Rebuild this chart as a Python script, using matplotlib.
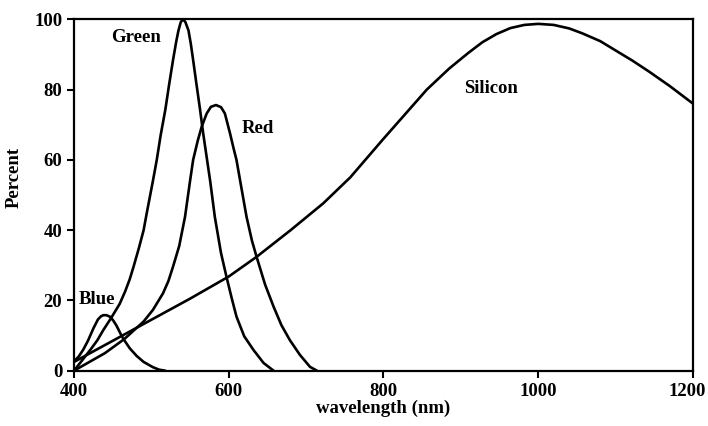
import matplotlib.pyplot as plt
import matplotlib.transforms as mtransforms

blue_nm = [400, 406, 412, 418, 425, 431, 435, 438, 442, 447, 451, 455, 460, 464, 472,
           481, 490, 502, 510, 518]
blue_pct = [2.7, 4.0, 6.0, 8.5, 12.0, 14.6, 15.5, 15.8, 15.8, 15.3, 14.2, 12.8, 10.6, 9.0, 6.4,
            4.2, 2.5, 1.0, 0.3, 0.0]

green_nm = [400, 410, 421, 430, 438, 448, 459, 466, 472, 477, 484, 490, 494, 502, 507,
            512, 518, 523, 528, 532, 535, 538, 541, 544, 548, 551, 554, 558, 563, 567,
            572, 576, 582, 590, 597, 604, 610, 620, 632, 645, 658]
green_pct = [0.0, 2.8, 5.9, 8.6, 11.6, 15.0, 19.0, 22.5, 26.0, 29.6, 35.0, 40.0, 44.8, 54.0, 60.0,
             67.0, 74.2, 81.5, 88.4, 93.5, 96.8, 99.2, 100.0, 99.2, 96.8, 93.0, 88.4, 82.0, 74.2, 67.5,
             60.0, 54.0, 43.8, 33.5, 26.8, 20.5, 15.4, 9.8, 5.9, 2.2, 0.0]

red_nm = [400, 420, 440, 465, 490, 502, 515, 522, 528, 536, 543.5, 550, 554, 560, 565,
          571.5, 577, 583.5, 590, 595, 601.6, 606, 610, 616, 623, 630, 636, 647, 658,
          668, 679, 692, 705, 714]
red_pct = [0.0, 2.5, 5.0, 9.0, 14.0, 17.3, 22.0, 25.5, 29.6, 35.5, 43.8, 54.0, 60.0, 65.5, 69.4,
           73.2, 75.1, 75.6, 75.0, 73.2, 67.6, 63.5, 60.0, 52.5, 43.8, 37.0, 32.4, 24.5, 18.2,
           13.0, 8.7, 4.5, 1.1, 0.0]

si_nm = [400, 450, 500, 550, 600, 636, 680, 722, 757, 800, 830, 856, 885, 910, 928,
         946, 964, 982, 1000, 1020, 1040, 1057, 1080, 1101, 1122, 1144, 1170, 1200]
si_pct = [2.5, 8.5, 14.5, 20.5, 26.8, 32.4, 40.0, 47.6, 55.0, 66.0, 73.5, 80.0, 86.0, 90.5, 93.5,
          95.8, 97.5, 98.4, 98.7, 98.4, 97.4, 96.0, 93.8, 91.0, 88.2, 85.0, 81.0, 76.0]

plt.rcParams['font.family'] = ['Liberation Serif', 'DejaVu Serif']
plt.rcParams['font.weight'] = 'bold'

fig = plt.figure(figsize=(7.08, 4.26), dpi=100)
ax = fig.add_axes([0.1045, 0.1298, 0.8743, 0.8249])

for xs, ys in [(blue_nm, blue_pct), (green_nm, green_pct), (red_nm, red_pct), (si_nm, si_pct)]:
    ax.plot(xs, ys, color='black', lw=1.9, solid_joinstyle='round', solid_capstyle='round')

ax.text(480, 94.7, 'Green', ha='center', va='center', fontsize=13.5, fontweight='bold')
ax.text(638, 68.8, 'Red', ha='center', va='center', fontsize=13.5, fontweight='bold')
ax.text(430, 20.2, 'Blue', ha='center', va='center', fontsize=13.5, fontweight='bold')
ax.text(939, 80.4, 'Silicon', ha='center', va='center', fontsize=13.5, fontweight='bold')

ax.set_xlim(400, 1200)
ax.set_ylim(0, 100)
ax.set_xticks([400, 600, 800, 1000, 1200])
ax.set_yticks([0, 20, 40, 60, 80, 100])
ax.tick_params(direction='out', length=5, width=1.5, labelsize=13.5, top=False, right=False)
for s in ax.spines.values():
    s.set_linewidth(1.6)
for lab in ax.get_xticklabels() + ax.get_yticklabels():
    lab.set_fontweight('bold')

# keep the last x tick label inside the canvas
last = ax.get_xticklabels()[-1]
last.set_transform(last.get_transform() + mtransforms.ScaledTranslation(-6 / 100, 0, fig.dpi_scale_trans))

ax.set_xlabel('wavelength (nm)', fontsize=13.5, fontweight='bold', labelpad=0)
ax.set_ylabel('Percent', fontsize=13.5, fontweight='bold')
ax.yaxis.set_label_coords(-0.083, 0.55)

fig.savefig('out.png', dpi=100)
